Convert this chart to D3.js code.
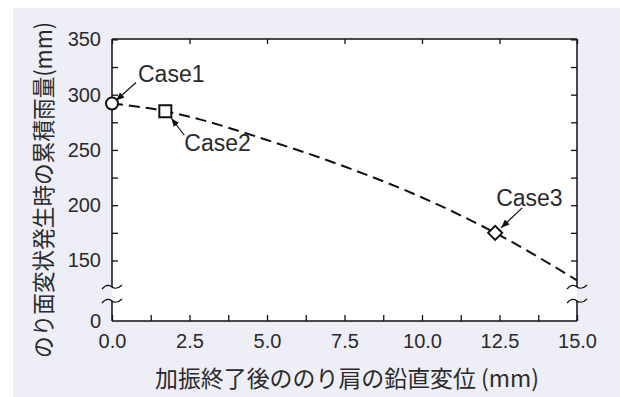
<!DOCTYPE html>
<html>
<head>
<meta charset="utf-8">
<script src="https://cdn.jsdelivr.net/npm/d3@7"></script>
<style>
  body { margin: 0; background: #fff; }
  svg { display: block; }
</style>
</head>
<body>
<div id="chart"></div>
<script>
// values
let xTicks = [0, 2.5, 5, 7.5, 10, 12.5, 15]
let yTickLabels = [0, 150, 200, 250, 300, 350]
let cases = ["Case1", "Case2", "Case3"]
let caseX = [0.0, 1.72, 12.36]
let caseY = [292, 285, 175]
let caseShape = ["circle", "square", "diamond"]
// dashed trend curve
let curveX = [0, 1.72, 2.5, 5, 7.5, 10, 12.36, 15]
let curveY = [292, 285, 280, 259, 235, 207, 175, 132]

let width = 620, height = 397
let pLeft = 112, pRight = 577, pTop = 39, pBottom = 321
let jp = "'Noto Sans CJK JP', sans-serif"
let num = "'Liberation Sans', Arial, sans-serif"

let svg = d3.select("#chart").append("svg")
  .attr("width", width)
  .attr("height", height)

// panel + plot background
svg.append("rect").attr("x", 13).attr("y", 8).attr("width", width - 13).attr("height", height - 8).attr("fill", "#eeeef7")
svg.append("rect").attr("x", pLeft).attr("y", pTop).attr("width", pRight - pLeft).attr("height", pBottom - pTop).attr("fill", "#fff")

let x = d3.scaleLinear().domain([0, 15]).range([pLeft, pRight])
// broken y axis: 0..110 squeezed into the bottom strip
let y = d3.scaleLinear().domain([0, 110, 350]).range([pBottom, 304.7, 39.4])

let minorX = d3.range(0, 15.01, 1.25)
let minorY = d3.range(150, 350.1, 25)

// bottom axis
let gX = svg.append("g")
  .attr("transform", "translate(0," + pBottom + ")")
  .call(d3.axisBottom(x).tickValues(minorX).tickSize(-6).tickPadding(13)
    .tickFormat(d => xTicks.includes(d) ? d3.format(".1f")(d) : ""))
// top axis
let gT = svg.append("g")
  .attr("transform", "translate(0," + pTop + ")")
  .call(d3.axisTop(x).tickValues(xTicks).tickSize(-5).tickFormat(""))
// left axis
let gY = svg.append("g")
  .attr("transform", "translate(" + pLeft + ",0)")
  .call(d3.axisLeft(y).tickValues(minorY).tickSize(-6).tickPadding(11)
    .tickFormat(d => yTickLabels.includes(d) ? d : ""))
gY.append("text")
  .attr("x", -11).attr("y", y(0)).attr("dy", "0.34em")
  .attr("text-anchor", "end")
  .text(yTickLabels[0])
// right axis
let gR = svg.append("g")
  .attr("transform", "translate(" + pRight + ",0)")
  .call(d3.axisRight(y).tickValues(minorY).tickSize(-6).tickFormat(""))

;[gX, gT, gY, gR].forEach(g => {
  g.select(".domain").remove()
  g.selectAll("line").attr("stroke", "#111").attr("stroke-width", 1.3)
  g.selectAll("text").attr("font-family", num).attr("font-size", 20).attr("fill", "#2a2a2a")
})

// frame with breaks
let frame = svg.append("g").attr("stroke", "#111").attr("stroke-width", 1.5).attr("fill", "none")
let brkTop = 287, brkBot = 301
frame.append("line").attr("x1", pLeft).attr("x2", pRight).attr("y1", pTop).attr("y2", pTop)
frame.append("line").attr("x1", pLeft).attr("x2", pRight).attr("y1", pBottom).attr("y2", pBottom)
;[pLeft, pRight].forEach(px => {
  frame.append("line").attr("x1", px).attr("x2", px).attr("y1", pTop).attr("y2", brkTop)
  frame.append("line").attr("x1", px).attr("x2", px).attr("y1", brkBot).attr("y2", pBottom)
  ;[brkTop, brkBot].forEach(py => {
    frame.append("path")
      .attr("d", "M" + (px - 10) + "," + (py + 2) + " C" + (px - 5) + "," + (py - 4) + " " + (px - 1) + "," + (py - 1) + " " + px + "," + py
        + " S" + (px + 5) + "," + (py + 3) + " " + (px + 10) + "," + (py - 2))
      .attr("stroke-width", 1.2)
  })
})

// dashed curve
let line = d3.line().x(d => x(d[0])).y(d => y(d[1])).curve(d3.curveMonotoneX)
svg.append("path")
  .datum(curveX.map((d, i) => [d, curveY[i]]))
  .attr("d", line)
  .attr("fill", "none")
  .attr("stroke", "#111")
  .attr("stroke-width", 2)
  .attr("stroke-dasharray", "11,6")

// markers
let marks = svg.append("g").attr("fill", "#fff").attr("stroke", "#111").attr("stroke-width", 2)
cases.forEach((c, i) => {
  let cx = x(caseX[i]), cy = y(caseY[i])
  if (caseShape[i] == "circle") {
    marks.append("circle").attr("cx", cx).attr("cy", cy).attr("r", 6)
  } else if (caseShape[i] == "square") {
    marks.append("rect").attr("x", cx - 6).attr("y", cy - 6).attr("width", 12).attr("height", 12)
  } else {
    marks.append("path").attr("d", "M" + cx + "," + (cy - 7) + " L" + (cx + 7) + "," + cy + " L" + cx + "," + (cy + 7) + " L" + (cx - 7) + "," + cy + "Z")
  }
})

// annotations
svg.append("defs").append("marker")
  .attr("id", "head").attr("viewBox", "0 0 10 10").attr("refX", 10).attr("refY", 5)
  .attr("markerWidth", 7).attr("markerHeight", 7).attr("orient", "auto")
  .append("path").attr("d", "M0,1 L10,5 L0,9 Z").attr("fill", "#111")

// label position / arrow offsets relative to the marker
let labelDx = [26, 19, 1], labelDy = [-22, 40, -27]
let arrowFrom = [[24, -21], [19, 24], [27, -25]]
let arrowTo = [[4, -3], [6, 7], [6, -5]]
cases.forEach((c, i) => {
  let cx = x(caseX[i]), cy = y(caseY[i])
  svg.append("line")
    .attr("x1", cx + arrowFrom[i][0]).attr("y1", cy + arrowFrom[i][1])
    .attr("x2", cx + arrowTo[i][0]).attr("y2", cy + arrowTo[i][1])
    .attr("stroke", "#111").attr("stroke-width", 1.2)
    .attr("marker-end", "url(#head)")
  svg.append("text")
    .attr("x", cx + labelDx[i]).attr("y", cy + labelDy[i])
    .attr("font-family", num).attr("font-size", 23).attr("fill", "#2a2a2a")
    .text(c)
})

// axis titles
svg.append("text")
  .attr("x", 347).attr("y", 387)
  .attr("text-anchor", "middle")
  .attr("font-family", jp).attr("font-size", 23).attr("fill", "#2a2a2a")
  .attr("textLength", 384).attr("lengthAdjust", "spacingAndGlyphs")
  .text("加振終了後ののり肩の鉛直変位 (mm)")
svg.append("text")
  .attr("transform", "translate(52,190) rotate(-90)")
  .attr("text-anchor", "middle")
  .attr("font-family", jp).attr("font-size", 23).attr("fill", "#2a2a2a")
  .attr("textLength", 336).attr("lengthAdjust", "spacingAndGlyphs")
  .text("のり面変状発生時の累積雨量(mm)")
</script>
</body>
</html>
